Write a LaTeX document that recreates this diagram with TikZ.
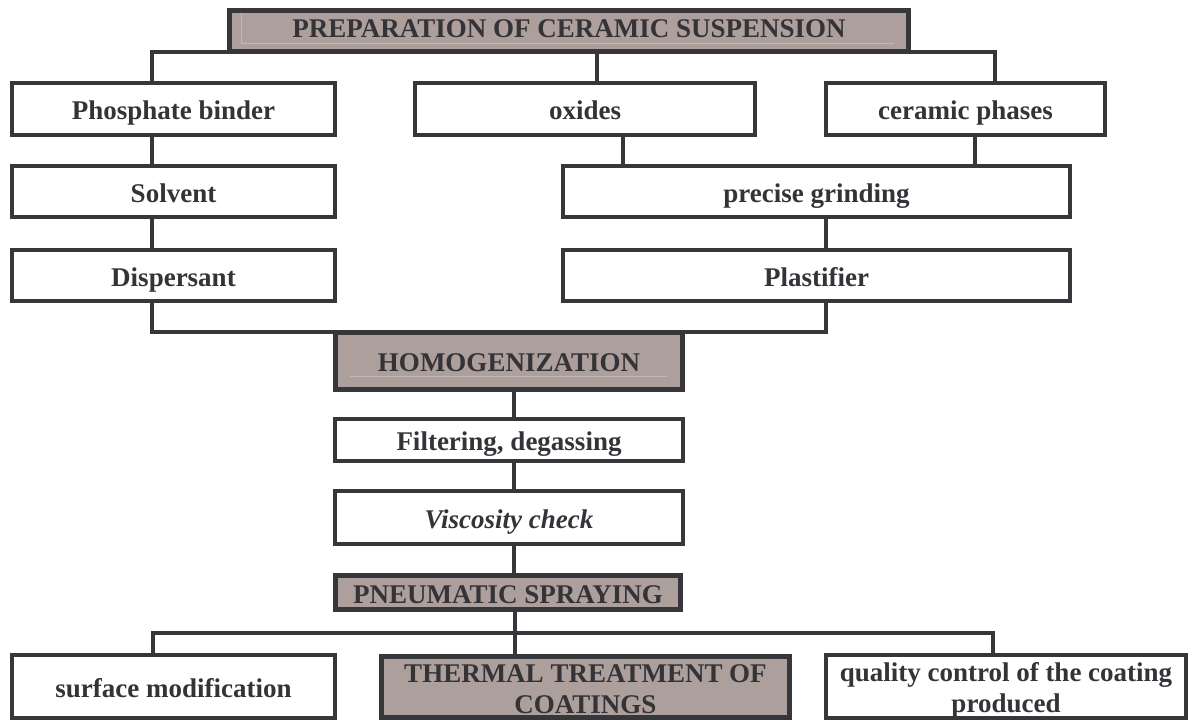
\documentclass[tikz,border=0pt]{standalone}
\usepackage{fontspec}
\setmainfont{Liberation Serif}
\usetikzlibrary{calc}
\definecolor{ln}{HTML}{37363B}
\definecolor{gfill}{HTML}{AD9F9B}
\definecolor{txt}{HTML}{333338}
\definecolor{hl}{HTML}{C4B9B5}
\begin{document}
\begin{tikzpicture}[x=1pt,y=-1pt,
  wbox/.style={draw=ln, line width=4pt, fill=white, inner sep=0pt,
    font=\fontsize{27}{31}\selectfont\bfseries, text=txt, align=center,
    text height=21pt, text depth=0pt},
  twoline/.style={text height=52pt},
  gbox/.style={wbox, line width=5pt, fill=gfill},
  conn/.style={draw=ln, line width=4pt},
  hline/.style={draw=hl, line width=0.8pt}]
\useasboundingbox (0,0) rectangle (1189,720);

% junction coordinates
\coordinate (jL) at (152,52);
\coordinate (jM) at (597,52);
\coordinate (jR) at (995,52);
\coordinate (jO) at (623,0);
\coordinate (jC) at (975,0);
\coordinate (jG) at (826,332);
\coordinate (jB) at (152,332);
\coordinate (jH) at (514,0);
\coordinate (jS) at (515,633);
\coordinate (jSL) at (153,633);
\coordinate (jSR) at (993,633);

% nodes
\node[gbox, minimum width=679pt, minimum height=41pt, text height=12pt] (top) at (569,31) {PREPARATION OF CERAMIC SUSPENSION};
\node[wbox, minimum width=323pt, minimum height=52pt] (phos) at (173.5,109) {Phosphate binder};
\node[wbox, minimum width=340pt, minimum height=52pt] (oxides) at (585,109) {oxides};
\node[wbox, minimum width=279pt, minimum height=52pt] (ceram) at (965.5,109) {ceramic phases};
\node[wbox, minimum width=323pt, minimum height=51pt] (solv) at (173.5,191.5) {Solvent};
\node[wbox, minimum width=507pt, minimum height=51pt] (grind) at (816.5,191.5) {precise grinding};
\node[wbox, minimum width=323pt, minimum height=51pt] (disp) at (173.5,275.5) {Dispersant};
\node[wbox, minimum width=507pt, minimum height=51pt] (plast) at (816.5,275.5) {Plastifier};
\node[wbox, minimum width=348pt, minimum height=42pt] (filter) at (509,440) {Filtering, degassing};
\node[wbox, minimum width=348pt, minimum height=53pt, font=\fontsize{27}{31}\selectfont\bfseries\itshape] (visc) at (509,517.5) {Viscosity check};
\node[wbox, minimum width=323pt, minimum height=63pt] (surf) at (173.5,686.5) {surface modification};
\node[wbox, twoline, minimum width=360pt, minimum height=63pt] (qual) at (1006,686.5) {quality control of the coating\\produced};

% faint bevel line of the title box
\draw[hline] ($(top.north west)+(14pt,-5pt)$) |- ($(top.south east)+(-17pt,11pt)$);

% connectors
\draw[conn] (phos.north -| jL) -- (jL) -- (jR) -- (ceram.north -| jR);
\draw[conn] (top.south -| jM) -- (oxides.north -| jM);
\draw[conn] (phos.south -| jL) -- (solv.north -| jL);
\draw[conn] (solv.south -| jL) -- (disp.north -| jL);
\draw[conn] (oxides.south -| jO) -- (grind.north -| jO);
\draw[conn] (ceram.south -| jC) -- (grind.north -| jC);
\draw[conn] (grind.south -| jG) -- (plast.north -| jG);
\draw[conn] (disp.south -| jB) -- (jB) -- (jG) -- (plast.south -| jG);

\node[gbox, minimum width=347pt, minimum height=57pt] (homog) at (509,361) {HOMOGENIZATION};
\draw[hline] ($(homog.south west)+(17pt,16pt)$) -- ($(homog.south east)+(-18pt,16pt)$);
\node[gbox, minimum width=345pt, minimum height=34pt] (pneu) at (508,592.5) {PNEUMATIC SPRAYING};
\node[gbox, twoline, minimum width=408pt, minimum height=61pt] (therm) at (585.5,687) {THERMAL TREATMENT OF\\COATINGS};

\draw[conn] (homog.south -| jH) -- (filter.north -| jH);
\draw[conn] (filter.south -| jH) -- (visc.north -| jH);
\draw[conn] (visc.south -| jH) -- (pneu.north -| jH);
\draw[conn] (pneu.south -| jS) -- (therm.north -| jS);
\draw[conn] (surf.north -| jSL) -- (jSL) -- (jSR) -- (qual.north -| jSR);
\end{tikzpicture}
\end{document}
